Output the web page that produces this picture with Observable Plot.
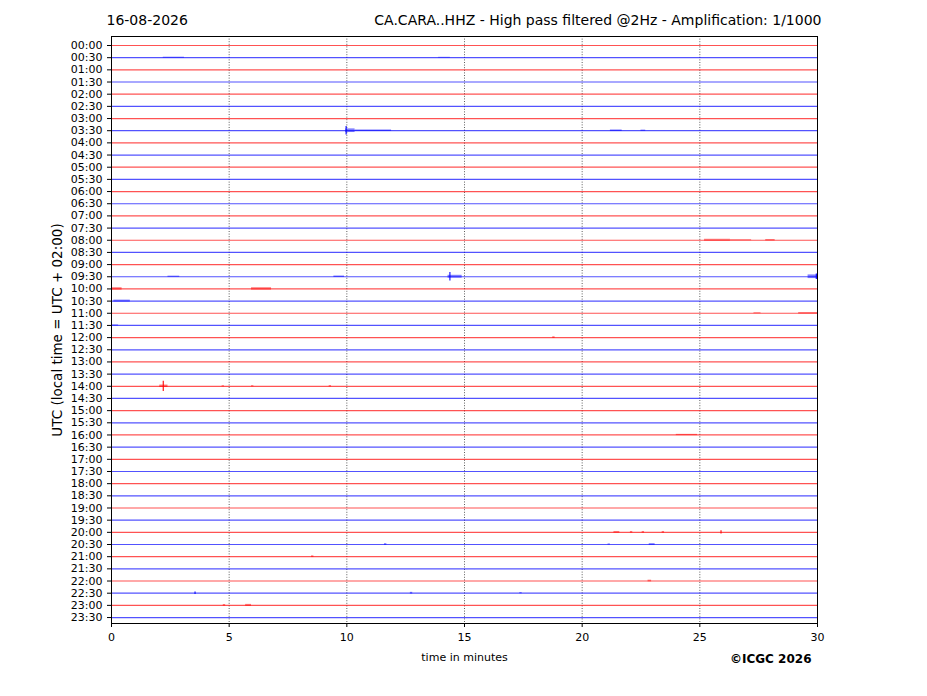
<!DOCTYPE html>
<html>
<head>
<meta charset="utf-8">
<script src="https://cdn.jsdelivr.net/npm/d3@7"></script>
<script src="https://cdn.jsdelivr.net/npm/@observablehq/plot@0.6"></script>
<style>
  html, body { margin: 0; padding: 0; background: #fff; }
  svg { display: block; }
</style>
</head>
<body>
<div id="chart"></div>
<script>
// ---- data ----
const dateLabel = "16-08-2026";
const titleRight = "CA.CARA..HHZ - High pass filtered @2Hz - Amplification: 1/1000";
const yAxisLabel = "UTC (local time = UTC + 02:00)";
const xAxisLabel = "time in minutes";
const creditLabel = "©ICGC 2026";

const rowLabels = [
  "00:00","00:30","01:00","01:30","02:00","02:30","03:00","03:30",
  "04:00","04:30","05:00","05:30","06:00","06:30","07:00","07:30",
  "08:00","08:30","09:00","09:30","10:00","10:30","11:00","11:30",
  "12:00","12:30","13:00","13:30","14:00","14:30","15:00","15:30",
  "16:00","16:30","17:00","17:30","18:00","18:30","19:00","19:30",
  "20:00","20:30","21:00","21:30","22:00","22:30","23:00","23:30"
];
const xTicks = [0, 5, 10, 15, 20, 25, 30];
const minuteSpan = [0, 30];

// bursts: [row, start minute, end minute, half amplitude (row units)]
const bursts = [
  ["00:30", 2.2, 3.1, 0.04], ["00:30", 13.9, 14.4, 0.03],
  ["03:30", 9.95, 10.35, 0.15], ["03:30", 10.35, 11.9, 0.06],
  ["03:30", 21.2, 21.7, 0.06], ["03:30", 22.5, 22.7, 0.05],
  ["08:00", 25.2, 26.3, 0.08], ["08:00", 26.3, 27.2, 0.04], ["08:00", 27.8, 28.2, 0.06],
  ["09:30", 2.4, 2.9, 0.05], ["09:30", 9.45, 9.9, 0.06],
  ["09:30", 14.3, 14.9, 0.12], ["09:30", 29.6, 30, 0.15],
  ["10:00", 0, 0.45, 0.1], ["10:00", 5.95, 6.8, 0.1],
  ["10:30", 0.1, 0.8, 0.08],
  ["11:00", 29.2, 30, 0.06], ["11:00", 27.3, 27.6, 0.04],
  ["11:30", 0, 0.3, 0.04],
  ["12:00", 18.75, 18.85, 0.07],
  ["14:00", 2.05, 2.4, 0.1], ["14:00", 4.7, 4.8, 0.05],
  ["14:00", 5.95, 6.05, 0.05], ["14:00", 9.25, 9.35, 0.06],
  ["16:00", 24.0, 24.9, 0.05],
  ["20:00", 21.35, 21.6, 0.07], ["20:00", 22.05, 22.15, 0.07],
  ["20:00", 22.55, 22.65, 0.07], ["20:00", 23.4, 23.5, 0.07],
  ["20:30", 11.6, 11.7, 0.07], ["20:30", 21.1, 21.2, 0.05], ["20:30", 22.85, 23.1, 0.07],
  ["21:00", 8.5, 8.6, 0.07],
  ["22:00", 22.8, 22.95, 0.07],
  ["22:30", 12.7, 12.8, 0.07], ["22:30", 17.35, 17.45, 0.05],
  ["23:00", 4.75, 4.85, 0.07], ["23:00", 5.7, 5.95, 0.08]
];

// spikes: [row, minute, half amplitude (row units)]
const spikes = [
  ["03:30", 9.97, 0.35],
  ["09:30", 14.38, 0.35],
  ["09:30", 29.95, 0.22],
  ["14:00", 2.2, 0.42],
  ["20:00", 25.9, 0.14],
  ["22:30", 3.55, 0.1]
];

// ---- helpers ----
const rowIndex = new Map(rowLabels.map((r, i) => [r, i]));
const rowColor = r => (rowIndex.get(r) % 2 === 0 ? "#ff0000" : "#0000ff");

const rows = rowLabels.map(r => ({row: r, i: rowIndex.get(r), color: rowColor(r)}));
const burstData = bursts.map(([row, x1, x2, a]) => ({row, x1, x2, a, i: rowIndex.get(row), color: rowColor(row)}));
const spikeData = spikes.map(([row, x, a]) => ({row, x, a, i: rowIndex.get(row), color: rowColor(row)}));

const font = "DejaVu Sans, sans-serif";

const chart = Plot.plot({
  width: 927,
  height: 696,
  marginLeft: 111,
  marginRight: 110,
  marginTop: 36,
  marginBottom: 73,
  style: {fontFamily: font, background: "#fff", overflow: "visible"},
  x: {domain: minuteSpan, range: [111, 817]},
  y: {domain: [-0.74, 47.49], range: [36, 623]},
  marks: [
    // vertical dotted grid
    Plot.ruleX(xTicks.slice(1, -1), {stroke: "#333", strokeWidth: 0.8, strokeDasharray: "1,1.6"}),
    // traces
    Plot.ruleY(rows, {y: "i", x1: minuteSpan[0], x2: minuteSpan[1], stroke: "color", strokeWidth: 1.2, strokeOpacity: 0.68}),
    Plot.rect(burstData, {x1: "x1", x2: "x2", y1: d => d.i - d.a, y2: d => d.i + d.a, fill: "color", fillOpacity: 0.5}),
    Plot.ruleX(spikeData, {x: "x", y1: d => d.i - d.a, y2: d => d.i + d.a, stroke: "color", strokeWidth: 1.2, strokeOpacity: 0.9}),
    // frame
    Plot.frame({stroke: "#000", strokeWidth: 1}),
    // axes
    Plot.axisY(rows.map(d => d.i), {
      tickFormat: i => rowLabels[i], tickSize: 4, tickPadding: 5,
      fontSize: 11, label: null, stroke: "#000", fill: "#000"
    }),
    Plot.axisX(xTicks, {
      tickSize: 4, tickPadding: 6, fontSize: 11, label: null, stroke: "#000", fill: "#000"
    }),
    // texts
    Plot.text([dateLabel], {text: d => d, frameAnchor: "top-left", textAnchor: "start", lineAnchor: "middle", dx: -5, dy: -16, fontSize: 14, fill: "#000"}),
    Plot.text([titleRight], {text: d => d, frameAnchor: "top-right", textAnchor: "end", lineAnchor: "middle", dx: 4, dy: -16, fontSize: 14, fill: "#000"}),
    Plot.text([xAxisLabel], {text: d => d, frameAnchor: "bottom", lineAnchor: "middle", dy: 34, fontSize: 11, fill: "#000"}),
    Plot.text([creditLabel], {text: d => d, frameAnchor: "bottom-right", textAnchor: "end", lineAnchor: "middle", dx: -6, dy: 36, fontSize: 12, fontWeight: "bold", fill: "#000"}),
    Plot.text([yAxisLabel], {text: d => d, frameAnchor: "left", textAnchor: "middle", rotate: -90, lineAnchor: "middle", dx: -54, fontSize: 13.5, fill: "#000"})
  ]
});
document.getElementById("chart").appendChild(chart);
</script>
</body>
</html>
